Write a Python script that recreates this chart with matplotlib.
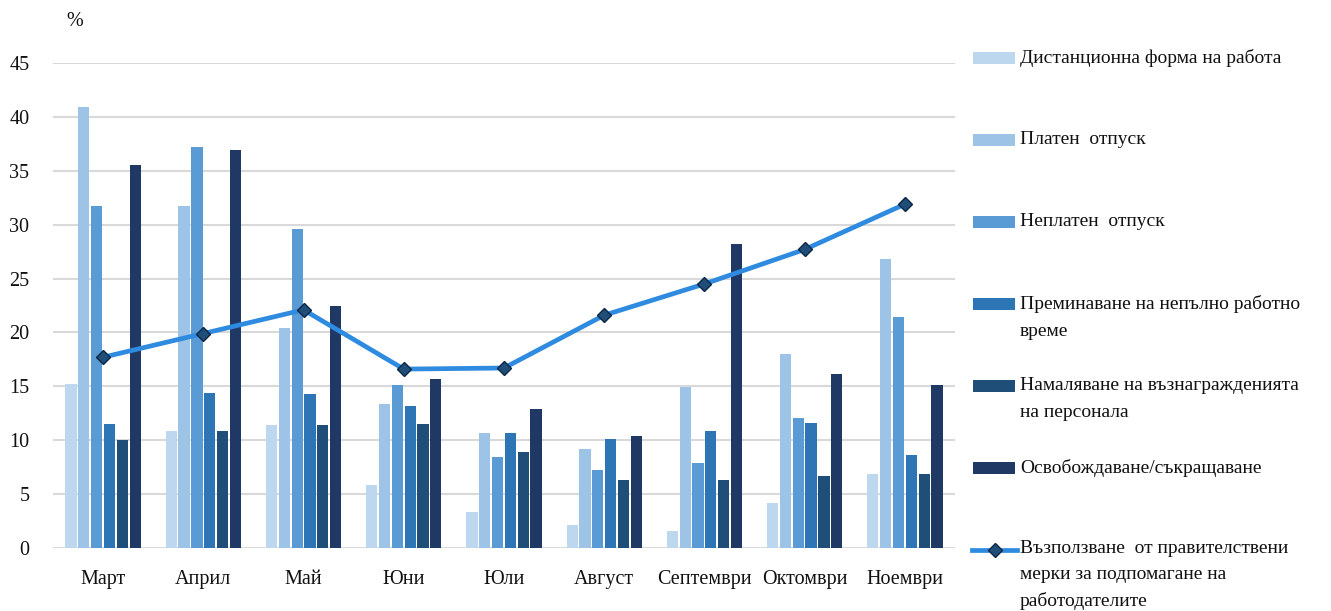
import matplotlib
matplotlib.use("Agg")
import matplotlib.pyplot as plt
from matplotlib.patches import Rectangle
from matplotlib.lines import Line2D
import numpy as np

plt.rcParams['font.family'] = ['Liberation Serif', 'DejaVu Serif']

months = ["Март", "Април", "Май", "Юни", "Юли", "Август", "Септември", "Октомври", "Ноември"]
series_names = [
    "Дистанционна форма на работа",
    "Платен  отпуск",
    "Неплатен  отпуск",
    "Преминаване на непълно работно\nвреме",
    "Намаляване на възнагражденията\nна персонала",
    "Освобождаване/съкращаване",
]
line_name = "Възползване  от правителствени\nмерки за подпомагане на\nработодателите"

remote      = [15.2, 10.9, 11.4, 5.8, 3.3, 2.1, 1.6, 4.2, 6.9]
paid_leave  = [40.9, 31.7, 20.4, 13.4, 10.7, 9.2, 14.9, 18.0, 26.8]
unpaid      = [31.7, 37.2, 29.6, 15.1, 8.4, 7.2, 7.9, 12.1, 21.4]
part_time   = [11.5, 14.4, 14.3, 13.2, 10.7, 10.1, 10.9, 11.6, 8.6]
pay_cut     = [10.0, 10.9, 11.4, 11.5, 8.9, 6.3, 6.3, 6.7, 6.9]
layoffs     = [35.5, 36.9, 22.5, 15.7, 12.9, 10.4, 28.2, 16.1, 15.1]
gov_support = [17.7, 19.9, 22.1, 16.6, 16.7, 21.6, 24.5, 27.7, 31.9]
yticks = [0, 5, 10, 15, 20, 25, 30, 35, 40, 45]

series = [remote, paid_leave, unpaid, part_time, pay_cut, layoffs]
colors = ["#BDD7EE", "#9DC3E6", "#5B9BD5", "#2E75B6", "#1F4E79", "#203864"]
line_color = "#2E8BE0"
txt_color = "#111111"

W, H = 1331, 611
fig = plt.figure(figsize=(W / 100, H / 100), dpi=100)
ax = fig.add_axes([53 / W, 1 - 548 / H, (955 - 53) / W, (548 - 63) / H])

x = np.arange(len(months))
slot = 0.128
bw = 0.112
for i, (vals, c) in enumerate(zip(series, colors)):
    ax.bar(x + (i - 2.5) * slot, vals, width=bw, color=c, zorder=2)

ax.plot(x, gov_support, color=line_color, lw=3.4, marker="D", markersize=7,
        markerfacecolor="#1F4E79", markeredgecolor="#0B2545", markeredgewidth=1.0, zorder=3)

ax.set_xlim(-0.5, len(months) - 0.5)
ax.set_ylim(0, 45)
ax.set_yticks(yticks)
ax.set_yticklabels([str(t) for t in yticks])
ax.set_xticks(x)
ax.set_xticklabels(months)
ax.tick_params(axis='both', length=0, labelsize=14.5, colors=txt_color)
ax.tick_params(axis='x', pad=16)
ax.tick_params(axis='y', pad=17)
ax.grid(axis='y', color="#D9D9D9", lw=1.5, zorder=0)
ax.set_axisbelow(True)
for s in ax.spines.values():
    s.set_visible(False)

fig.text(75 / W, 1 - 22 / H, "%", fontsize=14.5, ha='center', va='center', color=txt_color)

# legend (manual layout)
px = 973
pw = 42
ph = 12
tx = 1020
fs = 14
ls = 1.8
for i, (name, c) in enumerate(zip(series_names, colors)):
    yc = 58 + 82 * i
    fig.patches.append(Rectangle((px / W, 1 - (yc + ph / 2) / H), pw / W, ph / H,
                                 transform=fig.transFigure, facecolor=c, edgecolor='none'))
    fig.text(tx / W, 1 - (yc - 9) / H, name, fontsize=fs, ha='left', va='top',
             linespacing=ls, color=txt_color)
yc = 58 + 82 * 6
fig.lines.append(Line2D([972 / W, 1017 / W], [1 - yc / H, 1 - yc / H], transform=fig.transFigure,
                        color=line_color, lw=3.4))
fig.lines.append(Line2D([995 / W], [1 - yc / H], transform=fig.transFigure, marker="D",
                        markersize=7, markerfacecolor="#1F4E79", markeredgecolor="#0B2545",
                        markeredgewidth=1.0, lw=0))
fig.text(tx / W, 1 - (yc - 10) / H, line_name, fontsize=fs, ha='left', va='top',
         linespacing=1.66, color=txt_color)

fig.savefig("out.png", dpi=100)
